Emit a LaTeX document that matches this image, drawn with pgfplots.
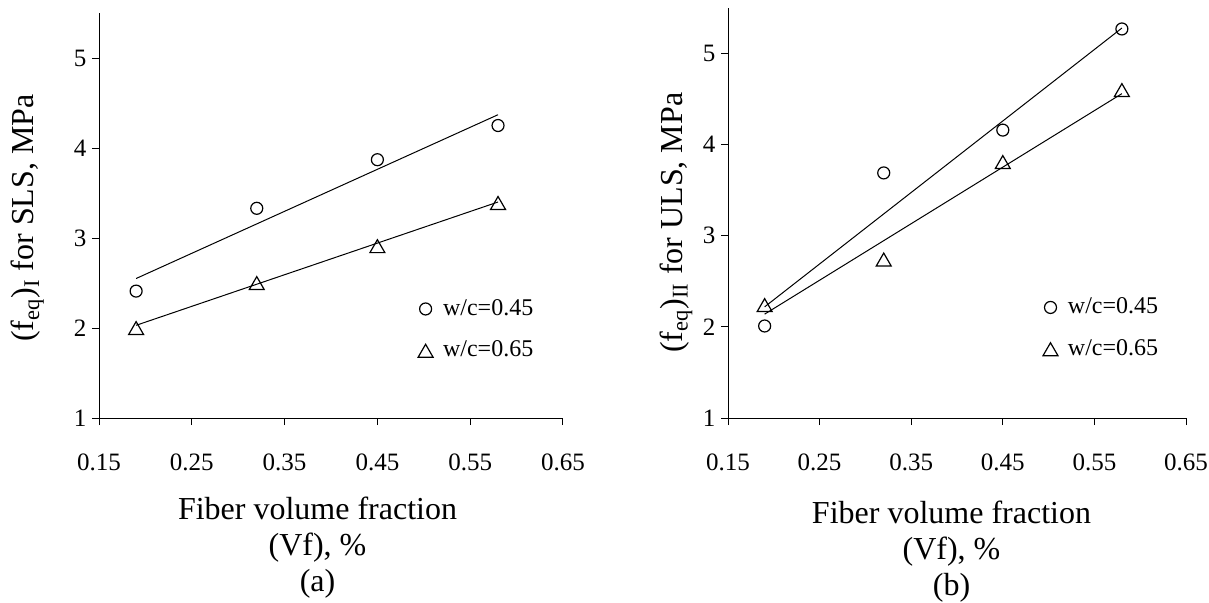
\documentclass[border=0pt]{standalone}
\usepackage{fontspec}
\setmainfont{Liberation Serif}
\usepackage{pgfplots}
\pgfplotsset{compat=1.18}
\pgfplotsset{
  myaxis/.style={
    scale only axis,
    axis x line*=bottom, axis y line*=left,
    axis line style={line width=0.5pt, -},
    xmin=0.15, xmax=0.65, ymin=1, ymax=5.5,
    xtick={0.15,0.25,0.35,0.45,0.55,0.65},
    xticklabels={0.15,0.25,0.35,0.45,0.55,0.65},
    ytick={1,2,3,4,5},
    tick align=outside, major tick length=3.5pt,
    tick style={black, line width=0.5pt},
    tick label style={font=\fontsize{12.5}{14}\selectfont},
    /pgf/number format/assume math mode=true,
    xticklabel style={font=\fontsize{12.5}{14}\selectfont, yshift=-10pt},
    yticklabel style={font=\fontsize{12.5}{14}\selectfont, xshift=1.5pt},
    legend style={draw=none, fill=none, font=\fontsize{12}{13}\selectfont,
      inner sep=0pt, row sep=7pt, legend cell align=left,
      /tikz/every even column/.append style={column sep=0pt}},
    legend image code/.code={\draw[#1] plot coordinates {(0pt,0pt)};},
    clip=false,
  },
  circ/.style={only marks, mark=o, mark size=3pt, mark options={line width=0.6pt, black}},
  tri/.style={only marks, mark=triangle, mark size=4.3pt, mark options={line width=0.6pt, black, yshift=-1.1pt}},
  trend/.style={black, line width=0.5pt, no markers, forget plot},
}
\begin{document}
\fontsize{12.5}{14}\selectfont
\begin{tikzpicture}
\useasboundingbox (0,0) rectangle (604.5pt,301pt);
% ---------- (a) ----------
\begin{axis}[myaxis, at={(49.5pt,92pt)}, anchor=south west,
  width=232pt, height=202.5pt,
  ylabel={(f\textsubscript{eq})\textsubscript{I} for SLS, MPa},
  every axis y label/.style={at={(axis description cs:-0.154,0.494)}, rotate=90, anchor=center, font=\fontsize{16}{18}\selectfont},
  xlabel={Fiber volume fraction\\(Vf), \%\\(a)},
  every axis x label/.style={at={(axis description cs:0.471,-0.195)}, anchor=north, align=center, inner sep=0pt, font=\fontsize{16}{18}\selectfont},
  legend style={at={(axis cs:0.4935,2.37)}, anchor=north west},
]
\addplot[trend] coordinates {(0.19,2.55) (0.58,4.37)};
\addplot[trend] coordinates {(0.19,2.03) (0.58,3.40)};
\addplot[circ] coordinates {(0.19,2.41) (0.32,3.33) (0.45,3.87) (0.58,4.25)};
\addlegendentry{~w/c=0.45}
\addplot[tri] coordinates {(0.19,2.00) (0.32,2.50) (0.45,2.91) (0.58,3.39)};
\addlegendentry{~w/c=0.65}
\end{axis}
% ---------- (b) ----------
\begin{axis}[myaxis, at={(364pt,92pt)}, anchor=south west,
  width=229pt, height=205pt,
  ylabel={(f\textsubscript{eq})\textsubscript{II} for ULS, MPa},
  every axis y label/.style={at={(axis description cs:-0.1135,0.476)}, rotate=90, anchor=center, font=\fontsize{16}{18}\selectfont},
  xlabel={Fiber volume fraction\\(Vf), \%\\(b)},
  every axis x label/.style={at={(axis description cs:0.488,-0.2024)}, anchor=north, align=center, inner sep=0pt, font=\fontsize{16}{18}\selectfont},
  legend style={at={(axis cs:0.4935,2.37)}, anchor=north west},
]
\addplot[trend] coordinates {(0.19,2.22) (0.58,5.28)};
\addplot[trend] coordinates {(0.19,2.14) (0.58,4.56)};
\addplot[circ] coordinates {(0.19,2.01) (0.32,3.69) (0.45,4.16) (0.58,5.27)};
\addlegendentry{~w/c=0.45}
\addplot[tri] coordinates {(0.19,2.24) (0.32,2.74) (0.45,3.81) (0.58,4.60)};
\addlegendentry{~w/c=0.65}
\end{axis}
\end{tikzpicture}
\end{document}
